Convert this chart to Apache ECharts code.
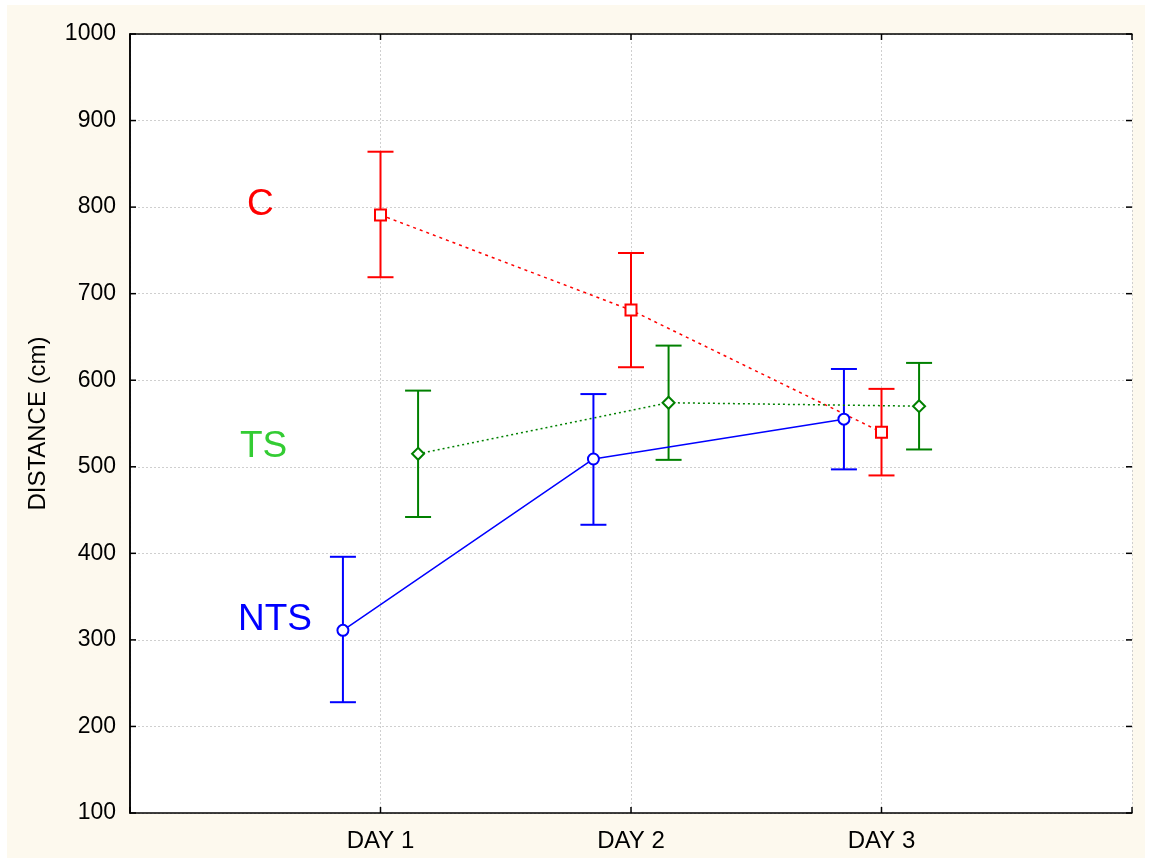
<!DOCTYPE html>
<html>
<head>
<meta charset="utf-8">
<script src="https://cdn.jsdelivr.net/npm/echarts@6/dist/echarts.min.js"></script>
<style>
  html, body { margin: 0; padding: 0; background: #ffffff; }
  #chart { width: 1152px; height: 865px; }
</style>
</head>
<body>
<div id="chart"></div>
<script>
// categories
const days = ['DAY 1', 'DAY 2', 'DAY 3']
const xTicks = [0, 1, 2, 3, 4]
const yTicks = [100, 200, 300, 400, 500, 600, 700, 800, 900, 1000]

// group means and error bar ends
const ntsMean = [311, 509, 555]
const ntsLow = [228, 433, 497]
const ntsHigh = [396, 584, 613]

const cMean = [791, 681, 540]
const cLow = [719, 615, 490]
const cHigh = [864, 747, 590]

const tsMean = [515, 574, 570]
const tsLow = [442, 508, 520]
const tsHigh = [588, 640, 620]

const FONT = '"Liberation Sans", Arial, sans-serif'
const X_MIN = xTicks[0]
const X_MAX = xTicks[xTicks.length - 1]
const Y_MIN = yTicks[0]
const Y_MAX = yTicks[yTicks.length - 1]

// horizontal shift of each group around the day position
const groups = [
  { name: 'NTS', mean: ntsMean, low: ntsLow, high: ntsHigh, shift: -0.15,
    color: '#0000ff', symbol: 'circle', size: 11, line: 'solid', lineWidth: 1.5 },
  { name: 'C', mean: cMean, low: cLow, high: cHigh, shift: 0,
    color: '#ff0000', symbol: 'rect', size: 11, line: [3, 4], lineWidth: 1.5 },
  { name: 'TS', mean: tsMean, low: tsLow, high: tsHigh, shift: 0.15,
    color: '#008000', symbol: 'diamond', size: 12, line: [2, 3], lineWidth: 1.5 }
]

const series = []
groups.forEach(g => {
  series.push({
    name: g.name + ' err',
    type: 'custom',
    z: 2,
    data: days.map((d, i) => [i + 1 + g.shift, g.low[i], g.high[i]]),
    renderItem: (params, api) => {
      const lo = api.coord([api.value(0), api.value(1)])
      const hi = api.coord([api.value(0), api.value(2)])
      const half = 13
      const style = { stroke: g.color, lineWidth: 2 }
      return {
        type: 'group',
        children: [
          { type: 'line', shape: { x1: lo[0], y1: lo[1], x2: hi[0], y2: hi[1] }, style },
          { type: 'line', shape: { x1: lo[0] - half, y1: lo[1], x2: lo[0] + half, y2: lo[1] }, style },
          { type: 'line', shape: { x1: hi[0] - half, y1: hi[1], x2: hi[0] + half, y2: hi[1] }, style }
        ]
      }
    }
  })
  series.push({
    name: g.name,
    type: 'line',
    z: 3,
    data: days.map((d, i) => [i + 1 + g.shift, g.mean[i]]),
    symbol: g.symbol,
    symbolSize: g.size,
    showSymbol: true,
    lineStyle: { color: g.color, width: g.lineWidth, type: g.line },
    itemStyle: { color: '#ffffff', borderColor: g.color, borderWidth: 2 },
    emphasis: { disabled: true }
  })
})

// inward ticks on all four sides of the frame
const TICK = 6
const tickStyle = { stroke: '#000', lineWidth: 1.5 }
series.push({
  type: 'custom', z: 4, silent: true,
  data: yTicks.map(v => [v]),
  renderItem: (params, api) => {
    const l = api.coord([X_MIN, api.value(0)])
    const r = api.coord([X_MAX, api.value(0)])
    return {
      type: 'group',
      children: [
        { type: 'line', shape: { x1: l[0], y1: l[1], x2: l[0] + TICK, y2: l[1] }, style: tickStyle },
        { type: 'line', shape: { x1: r[0] - TICK, y1: r[1], x2: r[0], y2: r[1] }, style: tickStyle }
      ]
    }
  }
})
series.push({
  type: 'custom', z: 4, silent: true,
  data: xTicks.map(v => [v]),
  renderItem: (params, api) => {
    const b = api.coord([api.value(0), Y_MIN])
    const t = api.coord([api.value(0), Y_MAX])
    return {
      type: 'group',
      children: [
        { type: 'line', shape: { x1: b[0], y1: b[1], x2: b[0], y2: b[1] - TICK }, style: tickStyle },
        { type: 'line', shape: { x1: t[0], y1: t[1], x2: t[0], y2: t[1] + TICK }, style: tickStyle }
      ]
    }
  }
})

const axisLine = { show: true, lineStyle: { color: '#000', width: 1.5 } }
const grid = { show: true, lineStyle: { color: '#cfcfcf', type: [2, 2], width: 1 } }

const chart = echarts.init(document.getElementById('chart'))

chart.setOption({
  animation: false,
  backgroundColor: '#ffffff',
  textStyle: { fontFamily: FONT },
  graphic: [
    { type: 'rect', z: -10, silent: true,
      shape: { x: 7, y: 5, width: 1138, height: 853 },
      style: { fill: '#fdf9ee' } },
    { type: 'text', left: 247, top: 186, z: 10,
      style: { text: 'C', fill: '#ff0000', font: '37px ' + FONT } },
    { type: 'text', left: 240, top: 428, z: 10,
      style: { text: 'TS', fill: '#33cc33', font: '37px ' + FONT } },
    { type: 'text', left: 238, top: 601, z: 10,
      style: { text: 'NTS', fill: '#0000ff', font: '37px ' + FONT } }
  ],
  grid: {
    left: 130, right: 20, top: 34, bottom: 52,
    show: true, backgroundColor: '#ffffff', borderWidth: 0
  },
  xAxis: [
    {
      type: 'value', min: X_MIN, max: X_MAX, interval: 1,
      axisLine, axisTick: { show: false },
      axisLabel: {
        color: '#000', fontSize: 24, margin: 16, fontFamily: FONT,
        formatter: v => (v >= 1 && v <= days.length) ? days[v - 1] : ''
      },
      splitLine: grid
    },
    {
      type: 'value', position: 'top', min: X_MIN, max: X_MAX, interval: 1,
      axisLine, axisTick: { show: false },
      axisLabel: { show: false },
      splitLine: { show: false }
    }
  ],
  yAxis: [
    {
      type: 'value', min: Y_MIN, max: Y_MAX, interval: 100,
      name: 'DISTANCE (cm)', nameLocation: 'middle', nameGap: 80,
      nameTextStyle: { color: '#000', fontSize: 24, fontFamily: FONT },
      axisLine, axisTick: { show: false },
      axisLabel: { color: '#000', fontSize: 23, margin: 14, fontFamily: FONT, formatter: v => String(v) },
      splitLine: grid
    },
    {
      type: 'value', position: 'right', min: Y_MIN, max: Y_MAX, interval: 100,
      axisLine, axisTick: { show: false },
      axisLabel: { show: false },
      splitLine: { show: false }
    }
  ],
  series
})

window.addEventListener('resize', () => chart.resize())
</script>
</body>
</html>
